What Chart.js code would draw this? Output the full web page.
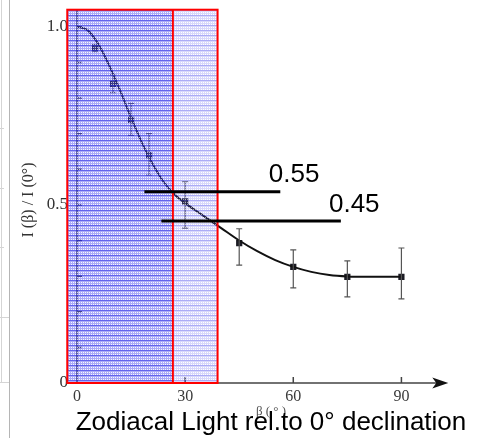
<!DOCTYPE html>
<html>
<head>
<meta charset="utf-8">
<script src="https://cdn.jsdelivr.net/npm/chart.js@4.4.0/dist/chart.umd.min.js"></script>
<style>
  html, body { margin: 0; padding: 0; background: #fff; }
</style>
</head>
<body>
<canvas id="grafica" width="488" height="438"></canvas>
<script>
// measured points: beta (deg) and I(beta)/I(0)
const betaObs = [5, 10, 15, 20, 30, 45, 60, 75, 90];
const intensityObs = [0.941, 0.84, 0.739, 0.64, 0.51, 0.393, 0.326, 0.298, 0.298];
const errHigh = [0.95, 0.865, 0.785, 0.70, 0.565, 0.433, 0.374, 0.343, 0.379];
const errLow = [0.93, 0.815, 0.695, 0.584, 0.435, 0.331, 0.267, 0.242, 0.236];

// fitted curve
const curveBeta = [0, 3, 6, 9, 12, 15, 18, 21, 24, 27, 30, 35, 40, 45, 50, 55, 60, 65, 70, 75, 80, 85, 90];
const curveIntensity = [1.0, 0.99, 0.95, 0.89, 0.82, 0.745, 0.675, 0.615, 0.565, 0.53, 0.505, 0.47, 0.435, 0.40, 0.37, 0.345, 0.326, 0.312, 0.303, 0.299, 0.298, 0.298, 0.298];

const xTickValues = [0, 30, 60, 90];
const yTickValues = [0, 0.1, 0.2, 0.3, 0.4, 0.5, 0.6, 0.7, 0.8, 0.9, 1.0];
const yTickLabels = { 0: '0', 0.5: '0.5', 1: '1.0' };

// shaded band (deg) : left edge, split, right edge
const shadeEdges = [-2.7, 26.6, 39.0];
const shadeTop = 1.048;

// marked levels
const levelValues = [0.537, 0.455];
const levelFrom = [18.7, 23.4];
const levelTo = [56.4, 73.2];
const levelText = ['0.55', '0.45'];
const levelTextBeta = [53.2, 69.9];
const levelTextY = [0.565, 0.481];

const axisEnd = 103;

function makePattern(base, line, dot) {
    const c = document.createElement('canvas');
    c.width = 4;
    c.height = 5;
    const g = c.getContext('2d');
    g.fillStyle = base;
    g.fillRect(0, 0, 4, 5);
    g.clearRect(0, 0, 4, 1);
    g.fillStyle = line;
    g.fillRect(0, 0, 4, 1);
    g.clearRect(1, 2, 1, 1);
    g.clearRect(3, 2, 1, 1);
    g.clearRect(1, 4, 1, 1);
    g.clearRect(3, 4, 1, 1);
    g.fillStyle = dot;
    g.fillRect(1, 2, 1, 1);
    g.fillRect(3, 2, 1, 1);
    g.fillRect(1, 4, 1, 1);
    g.fillRect(3, 4, 1, 1);
    return c;
}

function noPadding(s) {
    s.paddingTop = 0;
    s.paddingBottom = 0;
    s.paddingLeft = 0;
    s.paddingRight = 0;
}

const decor = {
    id: 'decor',
    beforeDraw(chart) {
        const ctx = chart.ctx;
        ctx.save();
        ctx.lineWidth = 1;
        ctx.strokeStyle = '#b5b5b5';
        ctx.beginPath();
        ctx.moveTo(9.5, 0); ctx.lineTo(9.5, 438);
        ctx.stroke();
        ctx.strokeStyle = '#d5d5d5';
        ctx.beginPath();
        ctx.moveTo(1.5, 0); ctx.lineTo(1.5, 382);
        ctx.moveTo(0, 317.5); ctx.lineTo(9, 317.5);
        ctx.moveTo(0, 382.5); ctx.lineTo(9, 382.5);
        [128, 188, 247].forEach(y => { ctx.moveTo(0, y + 0.5); ctx.lineTo(4, y + 0.5); });
        ctx.stroke();
        ctx.restore();
    },
    beforeDatasetsDraw(chart) {
        const ctx = chart.ctx;
        const xs = chart.scales.x, ys = chart.scales.y;
        const x0 = xs.getPixelForValue(0), y0 = ys.getPixelForValue(0);
        ctx.save();
        ctx.strokeStyle = '#444';
        ctx.lineWidth = 1.5;
        ctx.beginPath();
        ctx.moveTo(x0, y0);
        ctx.lineTo(x0, ys.getPixelForValue(shadeTop));
        yTickValues.forEach(v => {
            const py = ys.getPixelForValue(v);
            ctx.moveTo(x0, py);
            ctx.lineTo(x0 + 5, py);
        });
        const tip = xs.getPixelForValue(axisEnd);
        ctx.moveTo(x0, y0);
        ctx.lineTo(tip - 8, y0);
        xTickValues.forEach(v => {
            const px = xs.getPixelForValue(v);
            ctx.moveTo(px, y0);
            ctx.lineTo(px, y0 - 6);
        });
        ctx.stroke();
        ctx.fillStyle = '#111';
        ctx.beginPath();
        ctx.moveTo(tip, y0);
        ctx.lineTo(tip - 16, y0 - 5.5);
        ctx.lineTo(tip - 12, y0);
        ctx.lineTo(tip - 16, y0 + 5.5);
        ctx.closePath();
        ctx.fill();
        ctx.restore();
    },
    afterDatasetsDraw(chart) {
        const ctx = chart.ctx;
        const xs = chart.scales.x, ys = chart.scales.y;
        ctx.save();
        // error bars
        ctx.strokeStyle = '#555';
        ctx.lineWidth = 1.2;
        ctx.beginPath();
        betaObs.forEach((b, i) => {
            const px = xs.getPixelForValue(b);
            const hi = ys.getPixelForValue(errHigh[i]);
            const lo = ys.getPixelForValue(errLow[i]);
            ctx.moveTo(px, hi); ctx.lineTo(px, lo);
            ctx.moveTo(px - 3, hi); ctx.lineTo(px + 3, hi);
            ctx.moveTo(px - 3, lo); ctx.lineTo(px + 3, lo);
        });
        ctx.stroke();

        // shaded band
        const top = ys.getPixelForValue(shadeTop);
        const bottom = ys.getPixelForValue(0);
        const e = shadeEdges.map(v => xs.getPixelForValue(v));
        ctx.fillStyle = ctx.createPattern(makePattern('rgba(70,70,240,0.45)', 'rgba(40,40,230,0.72)', 'rgba(245,245,255,0.75)'), 'repeat');
        ctx.fillRect(e[0], top, e[1] - e[0], bottom - top);
        ctx.fillStyle = ctx.createPattern(makePattern('rgba(90,90,240,0.24)', 'rgba(70,70,235,0.45)', 'rgba(255,255,255,0.6)'), 'repeat');
        ctx.fillRect(e[1], top, e[2] - e[1], bottom - top);
        ctx.strokeStyle = '#ff0000';
        ctx.lineWidth = 2;
        ctx.strokeRect(e[0], top, e[2] - e[0], bottom - top);
        ctx.beginPath();
        ctx.moveTo(e[1], top); ctx.lineTo(e[1], bottom);
        ctx.stroke();

        // level lines and labels
        ctx.strokeStyle = '#000';
        ctx.lineWidth = 3;
        ctx.fillStyle = '#000';
        ctx.font = '26px "Liberation Sans", Arial, sans-serif';
        ctx.textAlign = 'left';
        ctx.textBaseline = 'alphabetic';
        levelValues.forEach((v, i) => {
            const py = ys.getPixelForValue(v);
            ctx.beginPath();
            ctx.moveTo(xs.getPixelForValue(levelFrom[i]), py);
            ctx.lineTo(xs.getPixelForValue(levelTo[i]), py);
            ctx.stroke();
            ctx.fillText(levelText[i], xs.getPixelForValue(levelTextBeta[i]), ys.getPixelForValue(levelTextY[i]));
        });
        ctx.restore();
    },
    afterDraw(chart) {
        const ctx = chart.ctx;
        ctx.save();
        ctx.translate(29, 200);
        ctx.rotate(-Math.PI / 2);
        ctx.font = '16px "Liberation Serif", "Times New Roman", serif';
        ctx.fillStyle = '#333';
        ctx.textAlign = 'center';
        ctx.textBaseline = 'middle';
        ctx.fillText('I (β) / I (0°)', 0, 0);
        ctx.restore();
    }
};

function main() {
    const ctx = document.getElementById('grafica').getContext('2d');
    const serif = '"Liberation Serif", "Times New Roman", serif';

    new Chart(ctx, {
        type: 'scatter',
        data: {
            datasets: [{
                type: 'line',
                data: curveBeta.map((b, i) => ({ x: b, y: curveIntensity[i] })),
                borderColor: '#111',
                borderWidth: 2,
                pointRadius: 0,
                cubicInterpolationMode: 'monotone',
                fill: false
            }, {
                data: betaObs.map((b, i) => ({ x: b, y: intensityObs[i] })),
                pointStyle: 'rect',
                pointRadius: 4.4,
                backgroundColor: '#1b1b24',
                borderWidth: 0
            }]
        },
        options: {
            responsive: false,
            animation: false,
            // left/right offset keeps the bottom captions centred where the original has them
            layout: { padding: { left: 40, top: 9, right: -14, bottom: 0 } },
            plugins: {
                legend: { display: false },
                tooltip: { enabled: false },
                title: {
                    display: true,
                    position: 'bottom',
                    text: 'Zodiacal Light rel.to 0° declination',
                    color: '#000',
                    font: { family: '"Liberation Sans", Arial, sans-serif', size: 26, weight: 'normal', lineHeight: 1.2 },
                    padding: { top: 3, bottom: 0 }
                },
                subtitle: {
                    display: true,
                    position: 'bottom',
                    text: 'β ( ° )',
                    color: '#555',
                    font: { family: serif, size: 13, weight: 'normal', lineHeight: 1.2 },
                    padding: { top: 0.4, bottom: -16 }
                }
            },
            scales: {
                x: {
                    type: 'linear',
                    min: 0,
                    max: 112.8,
                    afterBuildTicks: s => { s.ticks = xTickValues.map(v => ({ value: v })); },
                    afterFit: s => { s.height = 20.8; noPadding(s); },
                    grid: { display: false, drawTicks: false },
                    border: { display: false },
                    ticks: { color: '#3a3a3a', padding: 4, font: { family: serif, size: 16 } }
                },
                y: {
                    min: 0,
                    max: 1.05,
                    afterBuildTicks: s => { s.ticks = yTickValues.map(v => ({ value: v })); },
                    afterFit: s => { s.width = 37; noPadding(s); },
                    grid: { display: false, drawTicks: false },
                    border: { display: false },
                    ticks: {
                        color: '#333',
                        padding: 9,
                        font: { family: serif, size: 17 },
                        callback: v => yTickLabels[v] || ''
                    }
                }
            }
        },
        plugins: [decor]
    });
}

document.addEventListener('DOMContentLoaded', function() {
    main();
});
</script>
</body>
</html>
